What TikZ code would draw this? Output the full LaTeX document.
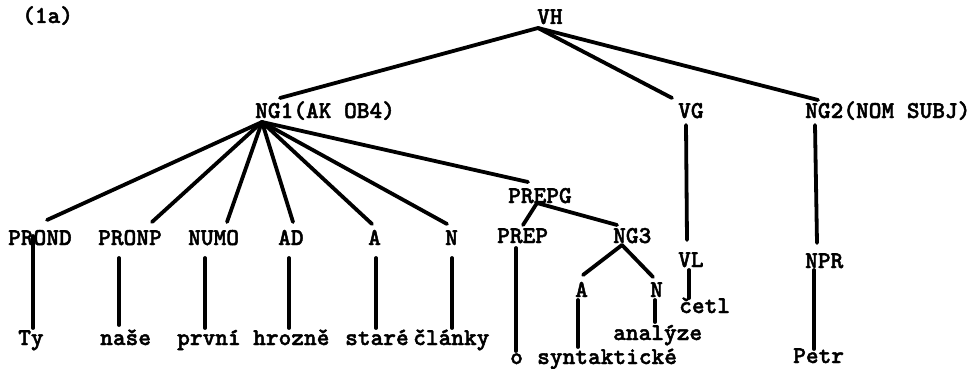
\documentclass[tikz,border=0pt]{standalone}
\usepackage{fontspec}
\newfontfamily\tw[FakeBold=1.8]{lmmonolt10-bold.otf}
\usetikzlibrary{calc}
\begin{document}
\begin{tikzpicture}[x=1pt,y=-1pt,
  lbl/.style={inner sep=0pt, anchor=base west, font=\tw\fontsize{24.2}{28}\selectfont},
  edge/.style={line width=3.8pt, line cap=round}]
\useasboundingbox (0,0) rectangle (976,369);
% labels
\node[lbl] (ex) at (22,23) {(1a)};
\node[lbl] (vh) at (537,24) {VH};
\node[lbl] (ng1) at (255,118) {NG1(AK OB4)};
\node[lbl] (vg) at (678,118) {VG};
\node[lbl] (ng2) at (805,118) {NG2(NOM SUBJ)};
\node[lbl] (prepg) at (508,203) {PREPG};
\node[lbl] (prond) at (8,245) {PROND};
\node[lbl] (pronp) at (98,245) {PRONP};
\node[lbl] (numo) at (188,245) {NUMO};
\node[lbl] (ad) at (278,245) {AD};
\node[lbl] (a1) at (368,245) {A};
\node[lbl] (n1) at (445,245) {N};
\node[lbl] (prep) at (497,243) {PREP};
\node[lbl] (ng3) at (613,243) {NG3};
\node[lbl] (vl) at (678,267) {VL};
\node[lbl] (npr) at (805,268) {NPR};
\node[lbl] (a2) at (575,297) {A};
\node[lbl] (n2) at (650,297) {N};
\node[lbl] (cetl) at (679,313) {četl};
\node[lbl] (ty) at (18,345) {Ty};
\node[lbl] (nase) at (100,345) {naše};
\node[lbl] (prvni) at (177,345) {první};
\node[lbl] (hrozne) at (253,345) {hrozně};
\node[lbl] (stare) at (345,345) {staré};
\node[lbl] (clanky) at (413,345) {články};
\node[lbl] (analyze) at (613,340) {analýze};
\node[lbl] (o) at (510,364) {o};
\node[lbl] (synt) at (537,364) {syntaktické};
\node[lbl] (petr) at (793,363) {Petr};
% connectors
\draw[edge] ($(vh.base west)+(1,4)$) -- ($(ng1.base west)+(25,-20)$);
\draw[edge] ($(vh.base west)+(1,4)$) -- ($(vg.base west)+(-6,-20)$);
\draw[edge] ($(vh.base west)+(1,4)$) -- ($(ng2.base west)+(13,-18)$);
\draw[edge] ($(ng1.base west)+(7,4)$) -- ($(prond.base west)+(39,-25)$);
\draw[edge] ($(ng1.base west)+(7,4)$) -- ($(pronp.base west)+(54,-23)$);
\draw[edge] ($(ng1.base west)+(7,4)$) -- ($(numo.base west)+(39,-23)$);
\draw[edge] ($(ng1.base west)+(7,4)$) -- ($(ad.base west)+(15,-23)$);
\draw[edge] ($(ng1.base west)+(7,4)$) -- ($(a1.base west)+(4,-21)$);
\draw[edge] ($(ng1.base west)+(7,4)$) -- ($(n1.base west)+(2,-21)$);
\draw[edge] ($(ng1.base west)+(7,4)$) -- ($(prepg.base west)+(20,-21)$);
\draw[edge] ($(vg.base west)+(8,7)$) -- ($(vl.base west)+(9,-27)$);
\draw[edge] ($(vl.base west)+(11,3)$) -- ($(cetl.base west)+(10,-15)$);
\draw[edge] ($(ng2.base west)+(10,7)$) -- ($(npr.base west)+(12,-25)$);
\draw[edge] ($(npr.base west)+(9,2)$) -- ($(petr.base west)+(21,-14)$);
\draw[edge] ($(prond.base west)+(25,-9)$) -- ($(ty.base west)+(15,-17)$);
\draw[edge] ($(pronp.base west)+(21,13)$) -- ($(nase.base west)+(19,-20)$);
\draw[edge] ($(numo.base west)+(17,13)$) -- ($(prvni.base west)+(28,-17)$);
\draw[edge] ($(ad.base west)+(11,13)$) -- ($(hrozne.base west)+(36,-17)$);
\draw[edge] ($(a1.base west)+(8,13)$) -- ($(stare.base west)+(31,-17)$);
\draw[edge] ($(n1.base west)+(7,13)$) -- ($(clanky.base west)+(39,-17)$);
\draw[edge] ($(prepg.base west)+(29,0)$) -- ($(prep.base west)+(26,-18)$);
\draw[edge] ($(prepg.base west)+(29,0)$) -- ($(ng3.base west)+(4,-18)$);
\draw[edge] ($(prep.base west)+(19,5)$) -- ($(o.base west)+(6,-13)$);
\draw[edge] ($(ng3.base west)+(9,2)$) -- ($(a2.base west)+(8,-22)$);
\draw[edge] ($(ng3.base west)+(9,2)$) -- ($(n2.base west)+(3,-20)$);
\draw[edge] ($(a2.base west)+(3,3)$) -- ($(synt.base west)+(41,-17)$);
\draw[edge] ($(n2.base west)+(5,3)$) -- ($(analyze.base west)+(42,-18)$);
\end{tikzpicture}
\end{document}
